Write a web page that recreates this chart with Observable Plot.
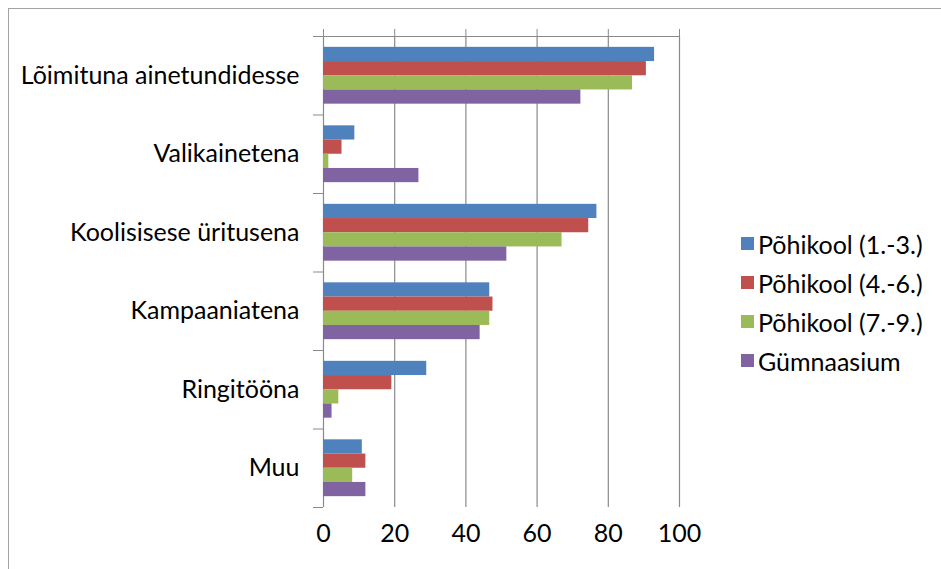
<!DOCTYPE html>
<html>
<head>
<meta charset="utf-8">
<script src="https://cdn.jsdelivr.net/npm/d3@7"></script>
<script src="https://cdn.jsdelivr.net/npm/@observablehq/plot@0.6"></script>
<style>
  html, body { margin: 0; padding: 0; background: #fff; }
  #wrap { position: relative; width: 941px; height: 569px; overflow: hidden; background: #fff; font-family: Lato, "Noto Sans", sans-serif; }
  #frame { position: absolute; left: 8px; top: 8px; width: 2000px; height: 2000px; border: 1px solid #a3a3a3; box-sizing: border-box; }
  #chart { position: absolute; left: 0; top: 0; }
  #legend { position: absolute; left: 741px; top: 224px; }
  .item { display: flex; align-items: center; height: 39px; font-size: 25px; color: #000; white-space: nowrap; }
  .sw { width: 13px; height: 13px; margin-right: 4px; }
</style>
</head>
<body>
<div id="wrap">
  <div id="frame"></div>
  <div id="chart"></div>
  <div id="legend"></div>
</div>
<script>
const categories = ["Lõimituna ainetundidesse", "Valikainetena", "Koolisisese üritusena", "Kampaaniatena", "Ringitööna", "Muu"];
const seriesNames = ["Põhikool (1.-3.)", "Põhikool (4.-6.)", "Põhikool (7.-9.)", "Gümnaasium"];
const seriesColors = ["#4F81BD", "#C0504D", "#9BBB59", "#8064A2"];
const pohikool13 = [93.0, 8.8, 76.8, 46.7, 29.0, 10.9];
const pohikool46 = [90.7, 5.2, 74.5, 47.6, 19.2, 11.9];
const pohikool79 = [86.8, 1.5, 67.0, 46.7, 4.3, 8.2];
const gymnaasium = [72.3, 26.8, 51.5, 44.0, 2.4, 11.9];
const xTicks = [0, 20, 40, 60, 80, 100];

const seriesValues = [pohikool13, pohikool46, pohikool79, gymnaasium];
const data = categories.flatMap((c, ci) =>
  seriesNames.map((s, si) => ({category: c, ci, series: s, si, value: seriesValues[si][ci]}))
);

// group layout inside each category band (fractions of the band)
const groupPad = 0.138;
const barFrac = 0.181;
const gridColor = "#8a8a8a";

const chart = Plot.plot({
  width: 941,
  height: 569,
  marginLeft: 323,
  marginRight: 262,
  marginTop: 36,
  marginBottom: 62,
  style: {fontFamily: "Lato, 'Noto Sans', sans-serif", background: "transparent", color: "#000"},
  x: {domain: [0, 100]},
  y: {domain: [categories.length, 0]},
  color: {domain: seriesNames, range: seriesColors},
  marks: [
    Plot.ruleX(xTicks, {stroke: gridColor, strokeWidth: 1.2}),
    Plot.ruleY([0], {stroke: gridColor, strokeWidth: 1.2}),
    Plot.axisX({anchor: "top", ticks: xTicks, tickSize: 8, tickFormat: () => "", stroke: gridColor, label: null}),
    Plot.axisX({anchor: "bottom", ticks: xTicks, tickSize: 0, tickPadding: 17, fontSize: 25, fill: "#000", label: null}),
    Plot.axisY({ticks: d3.range(0, categories.length + 1), tickSize: 10, tickFormat: () => "", stroke: gridColor, label: null}),
    Plot.rect(data, {
      x1: () => 0,
      x2: "value",
      y1: d => d.ci + groupPad + d.si * barFrac,
      y2: d => d.ci + groupPad + (d.si + 1) * barFrac,
      fill: "series"
    }),
    Plot.text(categories, {
      x: () => 0,
      y: (d, i) => i + 0.5,
      text: d => d,
      textAnchor: "end",
      dx: -24,
      fontSize: 25,
      fill: "#000"
    })
  ]
});
document.getElementById("chart").appendChild(chart);

const legend = document.getElementById("legend");
seriesNames.forEach((name, i) => {
  const row = document.createElement("div");
  row.className = "item";
  const sw = document.createElement("span");
  sw.className = "sw";
  sw.style.background = seriesColors[i];
  const tx = document.createElement("span");
  tx.textContent = name;
  row.appendChild(sw);
  row.appendChild(tx);
  legend.appendChild(row);
});
</script>
</body>
</html>
